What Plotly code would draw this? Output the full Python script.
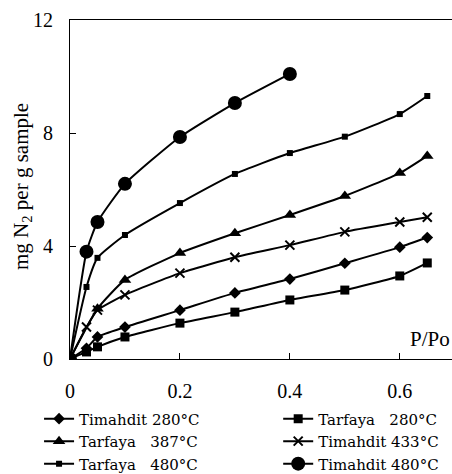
import plotly.graph_objects as go

# P/Po values and adsorbed amounts (mg N2 per g sample)
x_tim280 = [0, 0.03, 0.05, 0.1, 0.2, 0.3, 0.4, 0.5, 0.6, 0.65]
y_tim280 = [0, 0.38, 0.78, 1.13, 1.73, 2.34, 2.83, 3.39, 3.96, 4.3]

x_tar280 = [0, 0.03, 0.05, 0.1, 0.2, 0.3, 0.4, 0.5, 0.6, 0.65]
y_tar280 = [0, 0.25, 0.43, 0.78, 1.27, 1.66, 2.09, 2.44, 2.94, 3.4]

x_tar387 = [0, 0.05, 0.1, 0.2, 0.3, 0.4, 0.5, 0.6, 0.65]
y_tar387 = [0, 1.78, 2.8, 3.75, 4.45, 5.1, 5.77, 6.58, 7.19]

x_tim433 = [0, 0.03, 0.05, 0.1, 0.2, 0.3, 0.4, 0.5, 0.6, 0.65]
y_tim433 = [0, 1.13, 1.73, 2.27, 3.04, 3.6, 4.03, 4.5, 4.85, 5.02]

x_tar480 = [0, 0.03, 0.05, 0.1, 0.2, 0.3, 0.4, 0.5, 0.6, 0.65]
y_tar480 = [0, 2.55, 3.58, 4.39, 5.52, 6.55, 7.29, 7.87, 8.67, 9.31]

x_tim480 = [0, 0.03, 0.05, 0.1, 0.2, 0.3, 0.4]
y_tim480 = [0, 3.8, 4.85, 6.2, 7.86, 9.06, 10.09]

# (name, x, y, marker symbol, marker size, legend column)
series = [
    ("Timahdit 280°C", x_tim280, y_tim280, "diamond", 9, "legend"),
    ("Tarfaya\u00a0\u00a0 280°C", x_tar280, y_tar280, "square", 9, "legend2"),
    ("Tarfaya\u00a0\u00a0 387°C", x_tar387, y_tar387, "triangle-up", 11, "legend"),
    ("Timahdit 433°C", x_tim433, y_tim433, "x-thin", 9, "legend2"),
    ("Tarfaya\u00a0\u00a0 480°C", x_tar480, y_tar480, "square", 6, "legend"),
    ("Timahdit 480°C", x_tim480, y_tim480, "circle", 14, "legend2"),
]

fig = go.Figure()
for name, xs, ys, sym, sz, lg in series:
    marker = dict(symbol=sym, size=sz, color="black")
    if sym == "x-thin":
        marker["line"] = dict(width=2, color="black")
    fig.add_trace(go.Scatter(
        x=xs, y=ys, name=name, mode="lines+markers", legend=lg,
        line=dict(color="black", width=2, shape="spline", smoothing=0.5),
        marker=marker,
    ))

font_family = "Liberation Serif, Times New Roman, serif"
legend_font = dict(family="DejaVu Serif, serif", size=15, color="black")

common_legend = dict(
    orientation="v", yanchor="top", xanchor="left",
    font=legend_font, tracegroupgap=0, itemwidth=30,
    bgcolor="rgba(0,0,0,0)",
)

fig.update_layout(
    width=452, height=474,
    margin=dict(l=70, r=0, t=20, b=115, autoexpand=False),
    paper_bgcolor="white", plot_bgcolor="white",
    font=dict(family=font_family, size=20, color="black"),
    showlegend=True,
    legend=dict(x=-0.081, y=-0.128, **common_legend),
    legend2=dict(x=0.545, y=-0.128, **common_legend),
    xaxis=dict(
        range=[0, 0.695], tickvals=[0, 0.2, 0.4, 0.6],
        ticktext=["0", "0.2", "0.4", "0.6"],
        ticks="inside", ticklen=6, tickcolor="black",
        showline=True, linecolor="black", linewidth=1, mirror=True,
        showgrid=False, zeroline=False,
        tickfont=dict(size=20), ticklabelstandoff=14,
    ),
    yaxis=dict(
        range=[0, 12], tickvals=[0, 4, 8, 12],
        ticks="inside", ticklen=6, tickcolor="black",
        showline=True, linecolor="black", linewidth=1, mirror=False,
        showgrid=False, zeroline=False,
        tickfont=dict(size=20), ticklabelstandoff=12,
    ),
)

fig.add_annotation(
    x=-0.126, y=0.51, xref="paper", yref="paper", xanchor="center", yanchor="middle",
    text="mg N<sub>2</sub> per g sample", textangle=-90, showarrow=False,
    font=dict(family=font_family, size=21, color="black"),
)

fig.add_annotation(
    x=1.0, y=0.06, xref="paper", yref="paper", xanchor="right", yanchor="middle",
    text="P/Po", showarrow=False, font=dict(family=font_family, size=21, color="black"),
)

fig.write_html("out.html")
